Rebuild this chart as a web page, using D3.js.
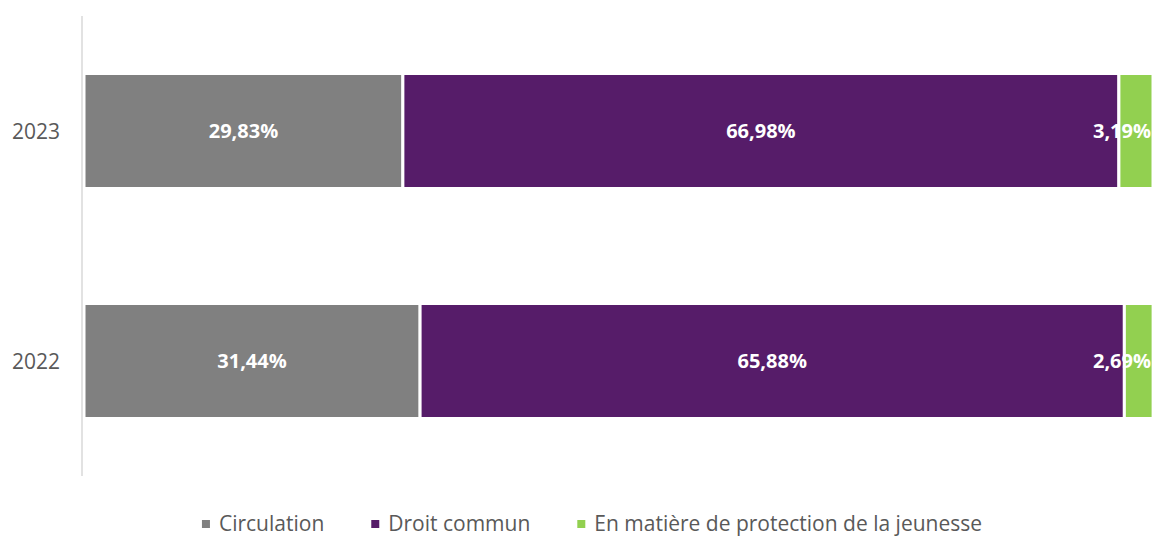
<!DOCTYPE html>
<html>
<head>
<meta charset="utf-8">
<script src="https://cdn.jsdelivr.net/npm/d3@7"></script>
<style>
  html, body { margin: 0; padding: 0; background: #ffffff; }
  svg { display: block; }
</style>
</head>
<body>
<svg id="chart" width="1154" height="538"></svg>
<script>
// Share of cases by type, per year (percent)
const years = ["2023", "2022"];
const seriesNames = ["Circulation", "Droit commun", "En matière de protection de la jeunesse"];
const circulation = [29.83, 31.44];
const droitCommun = [66.98, 65.88];
const jeunesse = [3.19, 2.69];
const seriesColors = ["#808080", "#561c69", "#92d050"];

const W = 1154, H = 538;
const plot = { left: 84, right: 1153, top: 16, bottom: 476 };
const font = "'Open Sans', 'DejaVu Sans', sans-serif";

const svg = d3.select("#chart");

const rows = years.map((y, i) => ({
  year: y,
  values: [circulation[i], droitCommun[i], jeunesse[i]]
}));

const x = d3.scaleLinear().domain([0, 100]).range([plot.left, plot.right]);
const y = d3.scaleBand().domain(years).range([plot.top, plot.bottom])
  .paddingInner(0.5).paddingOuter(0.25);

// Stacked segments
rows.forEach(row => {
  let acc = 0;
  const segs = row.values.map((v, k) => {
    const s = { start: acc, end: acc + v, value: v, k };
    acc += v;
    return s;
  });
  const g = svg.append("g");
  g.selectAll("rect").data(segs).join("rect")
    .attr("x", d => x(d.start))
    .attr("y", y(row.year))
    .attr("width", d => x(d.end) - x(d.start))
    .attr("height", y.bandwidth())
    .attr("fill", d => seriesColors[d.k])
    .attr("stroke", "#ffffff")
    .attr("stroke-width", 3);

  // Value labels, kept inside the plot on the right
  const cy = y(row.year) + y.bandwidth() / 2;
  g.selectAll("text").data(segs).join("text")
    .attr("y", cy)
    .attr("dy", "0.36em")
    .attr("text-anchor", "middle")
    .attr("font-family", font)
    .attr("font-weight", "bold")
    .attr("font-size", 20)
    .attr("fill", "#ffffff")
    .text(d => d.value.toFixed(2).replace(".", ",") + "%")
    .each(function(d) {
      const w = this.getComputedTextLength();
      let cx = (x(d.start) + x(d.end)) / 2;
      const maxRight = W - 3;
      if (cx + w / 2 > maxRight) cx = maxRight - w / 2;
      d3.select(this).attr("x", cx);
    });
});

// Category axis: only the vertical line and year labels
const yAxis = d3.axisLeft(y).tickSize(0).tickPadding(0);
const axisG = svg.append("g").attr("transform", "translate(82,0)").call(yAxis);
axisG.select(".domain")
  .attr("d", `M0,${plot.top}V${plot.bottom}`)
  .attr("stroke", "#d9d9d9")
  .attr("stroke-width", 1.5);
axisG.selectAll(".tick text")
  .attr("x", -22)
  .attr("dy", "0.36em")
  .attr("font-family", font)
  .attr("font-size", 21)
  .attr("fill", "#595959");

// Legend
const legend = svg.append("g");
const items = legend.selectAll("g").data(seriesNames).join("g");
items.append("rect")
  .attr("width", 8).attr("height", 8)
  .attr("y", 520)
  .attr("fill", (d, i) => seriesColors[i]);
items.append("text")
  .attr("x", 17)
  .attr("y", 531)
  .attr("font-family", font)
  .attr("font-size", 21)
  .attr("fill", "#595959")
  .text(d => d);

const gap = 47;
let cursor = 0;
const offsets = [];
items.each(function() {
  const tw = d3.select(this).select("text").node().getComputedTextLength();
  offsets.push(cursor);
  cursor += 17 + tw + gap;
});
const total = cursor - gap;
const startX = 592 - total / 2;
items.attr("transform", (d, i) => `translate(${startX + offsets[i]},0)`);
</script>
</body>
</html>
